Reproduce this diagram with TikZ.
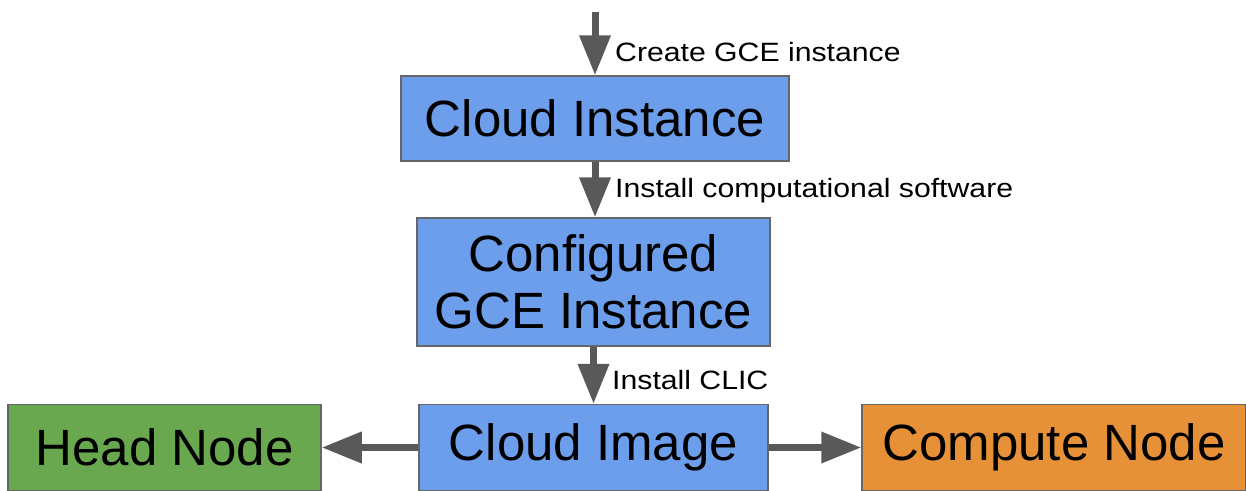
\documentclass[tikz,border=0pt]{standalone}
\usepackage{fontspec}
\setmainfont{Liberation Sans}
\usetikzlibrary{arrows.meta}
\definecolor{boxblue}{HTML}{6D9EEB}
\definecolor{boxgreen}{HTML}{6AA84F}
\definecolor{boxorange}{HTML}{E69138}
\definecolor{edgegray}{HTML}{666666}
\definecolor{arrowgray}{HTML}{595959}
\tikzset{
  box/.style={draw=edgegray, line width=1.5pt, inner sep=0pt, align=center,
    font=\fontsize{51}{57}\selectfont, text=black},
  flow/.style={draw=arrowgray, line width=7pt,
    -{Triangle[length=40pt,width=30pt]}},
  lbl/.style={anchor=west, inner sep=0pt, text=black, font=\fontsize{26.5}{30}\selectfont}
}
\begin{document}
\begin{tikzpicture}[x=1pt,y=-1pt]
\useasboundingbox (0,0) rectangle (1246,490);
\node[box, fill=boxblue, minimum width=388pt, minimum height=85pt] (ci) at (595,118.5) {Cloud Instance};
\node[box, fill=boxblue, minimum width=353pt, minimum height=128pt] (cg) at (593.5,282) {Configured\\GCE Instance};
\node[box, fill=boxblue, minimum width=349pt, minimum height=86pt] (img) at (593.5,447.5) {Cloud Image};
\node[box, fill=boxgreen, minimum width=313pt, minimum height=86pt] (head) at (164.5,447.5) {Head Node};
\node[box, fill=boxorange, minimum width=384pt, minimum height=86pt] (comp) at (1054,447.5) {Compute Node};
\coordinate (start) at (595,12);
\draw[flow] (start) -- (ci.north);
\draw[flow] (ci.south) -- (ci.south |- cg.north);
\draw[flow] (cg.south) -- (cg.south |- img.north);
\draw[flow] (img.west) -- (head.east);
\draw[flow] (img.east) -- (comp.west);
\node[lbl] (l1) at (615,52) {\scalebox{1.14}[1]{Create GCE instance}};
\node[lbl] (l2) at (615,191) {\scalebox{1.14}[1]{Install computational software}};
\node[lbl] (l3) at (612,380) {\scalebox{1.14}[1]{Install CLIC}};
\end{tikzpicture}
\end{document}
